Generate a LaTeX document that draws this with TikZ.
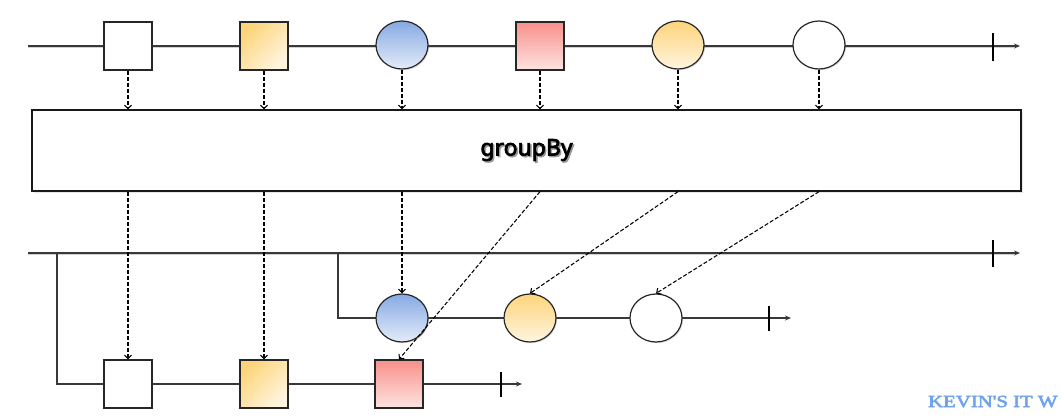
\documentclass[tikz,border=0pt]{standalone}
\usepackage{fontspec}
\newfontfamily\labelfont{Noto Sans}[AutoFakeBold=3]
\newfontfamily\markfont{Liberation Serif}[AutoFakeBold=3]
\usetikzlibrary{arrows.meta,shadows,shapes.geometric}

\definecolor{linegray}{HTML}{383838}
\definecolor{yelA}{HTML}{FDD47A}
\definecolor{yelB}{HTML}{FFF5E0}
\definecolor{bluA}{HTML}{86A9E3}
\definecolor{bluB}{HTML}{E4ECF9}
\definecolor{redA}{HTML}{F8908A}
\definecolor{redB}{HTML}{FDE4E1}
\definecolor{markblue}{HTML}{6FA3EE}

\tikzset{
  evsq/.style={draw=black!85, line width=1.2pt, minimum width=48pt, minimum height=48pt,
    inner sep=0pt, drop shadow={shadow xshift=1.2pt, shadow yshift=-1.2pt, opacity=.25}},
  evcirc/.style={evsq, ellipse, minimum width=52pt, minimum height=48pt},
  plainfill/.style={fill=white},
  yelsq/.style={top color=yelA, bottom color=yelB, shading angle=45},
  yelcirc/.style={top color=yelA, bottom color=yelB},
  blufill/.style={top color=bluA, bottom color=bluB},
  redfill/.style={top color=redA, bottom color=redB},
  timeline/.style={draw=linegray, line width=1.4pt, -{Stealth[length=6pt,width=5pt]}},
  lineshade/.style={draw=black!18, line width=1.4pt},
  endtick/.style={draw=black, line width=1.2pt},
  flow/.style={draw=black, line width=1.05pt, dash pattern=on 4pt off 2pt,
    -{Straight Barb[length=3.5pt,width=7pt]}},
  opbox/.style={draw=black!90, fill=white, line width=1.3pt, inner sep=0pt,
    drop shadow={shadow xshift=1.5pt, shadow yshift=-1.5pt, opacity=.2}},
  oplabel/.style={font=\labelfont\bfseries\fontsize{23}{23}\selectfont}
}

\begin{document}
\begin{tikzpicture}[x=1pt,y=-1pt]
\useasboundingbox (0,0) rectangle (1063,416);
\clip (0,0) rectangle (1063,416);

% ---- source stream ----
\coordinate (s0) at (28,46);
\coordinate (s1) at (1020,46);
\draw[lineshade] ([yshift=-1.5pt]s0) -- ([yshift=-1.5pt,xshift=-6pt]s1);
\draw[timeline] (s0) -- (s1);
\coordinate (t0a) at (993,33);
\coordinate (t0b) at (993,61);
\draw[endtick] (t0a) -- (t0b);

\node[evsq, plainfill] (a1) at (128,46) {};
\node[evsq, yelsq]     (a2) at (264,46) {};
\node[evcirc, blufill] (a3) at (402,45) {};
\node[evsq, redfill]   (a4) at (540,46) {};
\node[evcirc, yelcirc] (a5) at (678,45) {};
\node[evcirc, plainfill] (a6) at (819,45) {};

% ---- operator ----
\node[opbox, minimum width=989pt, minimum height=81pt] (op) at (526.5,150.5) {};
\node[oplabel, text=black!40] (opshadow) at (528,151.5) {groupBy};
\node[oplabel, text=black] (optext) at (526.5,150) {groupBy};

\foreach \n in {a1,a2,a3,a4,a5,a6}
  \draw[flow] (\n.south) -- (\n.south |- op.north);

% ---- outer stream of groups ----
\coordinate (g0) at (28,253);
\coordinate (g1) at (1020,253);
\draw[lineshade] ([yshift=-1.5pt]g0) -- ([yshift=-1.5pt,xshift=-6pt]g1);
\draw[timeline] (g0) -- (g1);
\coordinate (t1a) at (993,240);
\coordinate (t1b) at (993,267);
\draw[endtick] (t1a) -- (t1b);

% ---- group of circles ----
\coordinate (m0) at (338,253);
\coordinate (m1) at (791,318);
\draw[timeline, line width=1.1pt] (m0) |- (m1);
\coordinate (t2a) at (769,306);
\coordinate (t2b) at (769,331);
\draw[endtick] (t2a) -- (t2b);
\node[evcirc, blufill]   (c1) at (402,318) {};
\node[evcirc, yelcirc]   (c2) at (530,318) {};
\node[evcirc, plainfill] (c3) at (656,318) {};

% ---- group of squares ----
\coordinate (q0) at (57,253);
\coordinate (q1) at (522,384);
\draw[timeline, line width=1.1pt] (q0) |- (q1);
\coordinate (t3a) at (501,372);
\coordinate (t3b) at (501,397);
\draw[endtick] (t3a) -- (t3b);
\node[evsq, plainfill] (b1) at (128,384) {};
\node[evsq, yelsq]     (b2) at (264,384) {};
\node[evsq, redfill]   (b3) at (399,384) {};

% ---- routing out of the operator ----
\draw[flow] (a1 |- op.south) -- (b1.north);
\draw[flow] (a2 |- op.south) -- (b2.north);
\draw[flow] (a3 |- op.south) -- (c1.north);
\draw[flow] (a4 |- op.south) -- (b3.north);
\draw[flow] (a5 |- op.south) -- (c2.north);
\draw[flow] (a6 |- op.south) -- (c3.north);

% ---- signature ----
\node[anchor=base west, inner sep=0pt, text=markblue,
  font=\markfont\bfseries\fontsize{17}{17}\selectfont] (sig) at (928,407)
  {\scalebox{1.22}[1]{KEVIN'S IT W}};
\end{tikzpicture}
\end{document}
